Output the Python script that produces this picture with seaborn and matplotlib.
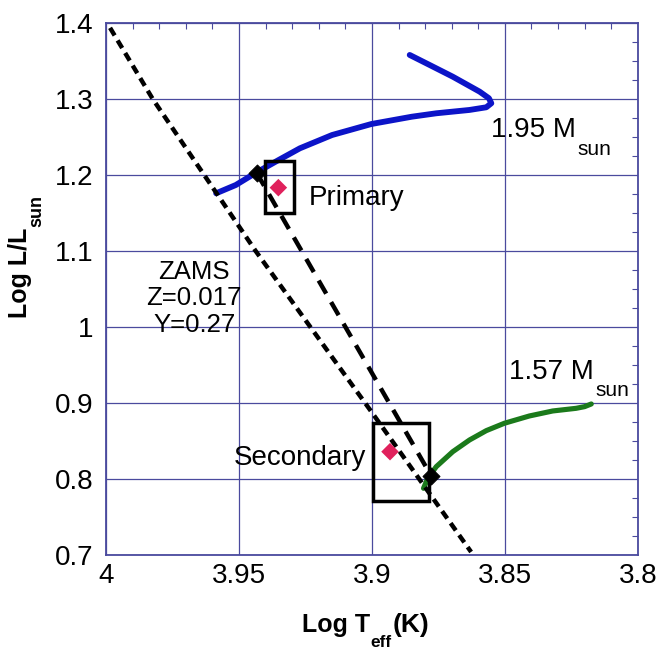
import matplotlib
matplotlib.use("Agg")
import matplotlib.pyplot as plt
from matplotlib.patches import Rectangle
from matplotlib.ticker import MultipleLocator, FuncFormatter
import pandas as pd
import seaborn as sns

# evolutionary track, 1.95 Msun (log Teff, log L)
track_hi_T = [3.9586, 3.9512, 3.9436, 3.9351, 3.9271, 3.9150, 3.9002, 3.8850,
              3.8758, 3.8633, 3.8570, 3.8551, 3.8560, 3.8595, 3.8696, 3.8783, 3.8858]
track_hi_L = [1.1762, 1.1871, 1.2033, 1.2200, 1.2354, 1.2529, 1.2674, 1.2770,
              1.2815, 1.2859, 1.2894, 1.2947, 1.3013, 1.3100, 1.3297, 1.3451, 1.3583]

# evolutionary track, 1.57 Msun
track_lo_T = [3.8806, 3.8790, 3.8758, 3.8696, 3.8633, 3.8570, 3.8502, 3.8408,
              3.8320, 3.8232, 3.8200, 3.8175]
track_lo_L = [0.7878, 0.8010, 0.8163, 0.8360, 0.8514, 0.8637, 0.8734, 0.8830,
              0.8896, 0.8931, 0.8953, 0.8988]

# ZAMS
zams_T = [3.9985, 3.9824, 3.9584, 3.9437, 3.9007, 3.8627]
zams_L = [1.394, 1.300, 1.176, 1.100, 0.891, 0.704]

# isochrone through the two model points
iso_T = [3.9434, 3.8777]
iso_L = [1.2033, 0.8040]

# observed components
star_names = ["Primary", "Secondary"]
star_T = [3.9352, 3.8932]
star_L = [1.1836, 0.8360]
box_T_lo = [3.9293, 3.8787]
box_T_hi = [3.9402, 3.8997]
box_L_lo = [1.1507, 0.7715]
box_L_hi = [1.2191, 0.8742]

navy = "#4a4a9e"

sns.set_theme(style="white")
plt.rcParams["font.family"] = ["Liberation Sans", "DejaVu Sans"]
plt.rcParams["text.color"] = "black"
plt.rcParams["axes.labelcolor"] = "black"

fig = plt.figure(figsize=(6.63, 6.54), dpi=100)
ax = fig.add_axes([0.16, 0.1514, 0.802, 0.813])

hi = pd.DataFrame({"T": track_hi_T, "L": track_hi_L})
lo = pd.DataFrame({"T": track_lo_T, "L": track_lo_L})
sns.lineplot(data=hi, x="T", y="L", sort=False, estimator=None, color="#0c14c8",
             lw=4.2, ax=ax, zorder=3)
sns.lineplot(data=lo, x="T", y="L", sort=False, estimator=None, color="#1b7a1b",
             lw=3.7, ax=ax, zorder=3)

ax.plot(zams_T, zams_L, color="black", lw=3.2, dashes=(2.0, 1.3), zorder=4)
ax.plot(iso_T, iso_L, color="black", lw=3.2, dashes=(3.4, 2.2), zorder=4)
sns.scatterplot(x=iso_T, y=iso_L, marker="D", s=75, color="black",
                edgecolor="black", ax=ax, zorder=5)

for i in range(len(star_names)):
    ax.add_patch(Rectangle((box_T_lo[i], box_L_lo[i]),
                           box_T_hi[i] - box_T_lo[i], box_L_hi[i] - box_L_lo[i],
                           fill=False, ec="black", lw=2.5, zorder=5))
sns.scatterplot(x=star_T, y=star_L, marker="D", s=80, color="#e0215c",
                edgecolor="none", ax=ax, zorder=6)

ax.set_xlim(4.0, 3.8)
ax.set_ylim(0.7, 1.4)
ax.set_xlabel("")
ax.set_ylabel("")

fmt = FuncFormatter(lambda v, p: f"{v:g}")
ax.xaxis.set_major_locator(MultipleLocator(0.05))
ax.xaxis.set_minor_locator(MultipleLocator(0.01))
ax.yaxis.set_major_locator(MultipleLocator(0.1))
ax.yaxis.set_minor_locator(MultipleLocator(0.025))
ax.xaxis.set_major_formatter(fmt)
ax.yaxis.set_major_formatter(fmt)
ax.tick_params(which="both", direction="in", top=True, right=True, color=navy,
               labelsize=20, labelcolor="black")
ax.tick_params(which="major", length=0)
ax.tick_params(which="minor", length=4, width=0.8)
ax.tick_params(axis="x", pad=6)
ax.tick_params(axis="y", pad=9)
ax.grid(True, which="major", color=navy, lw=0.9)
for sp in ax.spines.values():
    sp.set_color(navy)
    sp.set_linewidth(1.3)

# axis labels with low-set subscripts
xl = ax.text(0.368, -0.1448, "Log T", transform=ax.transAxes, fontsize=18,
             fontweight="bold", ha="left", va="baseline")
xs = ax.annotate("eff", xy=(1, 0), xycoords=xl, xytext=(0.5, -7),
                 textcoords="offset points", fontsize=12.5, fontweight="bold",
                 va="baseline")
ax.annotate("(K)", xy=(1, 0), xycoords=(xs, xl), xytext=(0.5, 0),
            textcoords="offset points", fontsize=19, fontweight="bold",
            va="bottom")

yl = ax.text(-0.1485, 0.446, "Log L/L", transform=ax.transAxes, fontsize=18,
             fontweight="bold", rotation=90, rotation_mode="anchor",
             ha="left", va="baseline")
ax.annotate("sun", xy=(1, 1), xycoords=yl, xytext=(7, 0.5),
            textcoords="offset points", fontsize=13, fontweight="bold",
            rotation=90, rotation_mode="anchor", ha="left", va="baseline")

# annotations
t1 = ax.text(3.8552, 1.2499, "1.95 M", fontsize=20, ha="left", va="baseline")
ax.annotate("sun", xy=(1, 0), xycoords=t1, xytext=(1, -8.5),
            textcoords="offset points", fontsize=15, va="baseline")
t2 = ax.text(3.8485, 0.9313, "1.57 M", fontsize=20, ha="left", va="baseline")
ax.annotate("sun", xy=(1, 0), xycoords=t2, xytext=(1, -7.5),
            textcoords="offset points", fontsize=15, va="baseline")
ax.text(3.9237, 1.1608, "Primary", fontsize=20, ha="left", va="baseline")
ax.text(3.9021, 0.8185, "Secondary", fontsize=20, ha="right", va="baseline")
ax.text(3.9669, 1.038, "ZAMS\nZ=0.017\nY=0.27", fontsize=18.5, ha="center",
        va="center", multialignment="center", linespacing=1.12)

fig.savefig("out.png", dpi=100, facecolor="white")
